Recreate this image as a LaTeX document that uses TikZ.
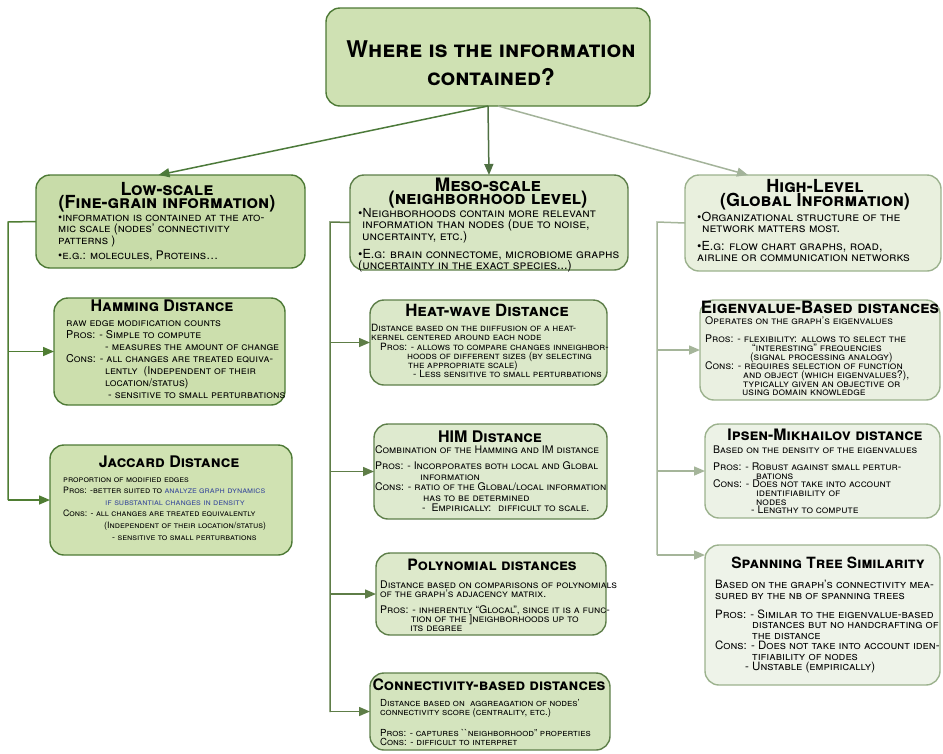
\documentclass[tikz,border=0pt]{standalone}
\usepackage{fontspec}
\newfontfamily\hf{TeX Gyre Heros}
\usetikzlibrary{arrows.meta}
\definecolor{dkg}{HTML}{4E7A36}
\definecolor{mdg}{HTML}{5E7F4A}
\definecolor{ltg}{HTML}{9CB28E}
\definecolor{cTitle}{HTML}{CFE1B3}
\definecolor{cLow}{HTML}{C8DCA9}
\definecolor{cHam}{HTML}{CCDFAD}
\definecolor{cJac}{HTML}{D0E2B2}
\definecolor{cMeso}{HTML}{D8E6C4}
\definecolor{cHeat}{HTML}{DBE8C9}
\definecolor{cHim}{HTML}{DEEACF}
\definecolor{cPoly}{HTML}{DDE9CB}
\definecolor{cConn}{HTML}{D4E4BE}
\definecolor{cHigh}{HTML}{E9F0DE}
\definecolor{cEig}{HTML}{EAF0E1}
\definecolor{cIps}{HTML}{ECF2E6}
\definecolor{cSpan}{HTML}{EEF3E9}
\definecolor{blu}{HTML}{3B4C9B}
\definecolor{aLow}{HTML}{4C7A3A}
\definecolor{aMeso}{HTML}{4F7043}
\definecolor{aHigh}{HTML}{A3B39A}
\definecolor{tLow}{HTML}{4F7D33}
\definecolor{tMeso}{HTML}{5E7D47}
\definecolor{tHigh}{HTML}{A5B59A}
\newcommand\bfnt[2]{\hf\scshape\fontsize{#1}{#2}\selectfont\lineskiplimit=-100pt\lineskip=0pt}
\newcommand\hfnt[2]{\hf\bfseries\scshape\fontsize{#1}{#2}\selectfont\lineskiplimit=-100pt\lineskip=0pt}
\newcommand\fl{\vphantom{(}}
\begin{document}
\begin{tikzpicture}[x=1pt,y=-1pt,
  box/.style={draw, rounded corners=14pt, line width=1.4pt, anchor=north west, inner sep=0pt, outer sep=0pt},
  hd/.style={anchor=base, inner sep=0pt, align=center},
  hdm/.style={anchor=north, inner sep=0pt, align=center},
  body/.style={anchor=north west, inner sep=0pt, align=left},
  tip/.style={-{Triangle[length=11pt,width=9pt]}, line width=1.5pt},
  trunk/.style={line width=1.5pt}]
\useasboundingbox (0,0) rectangle (943,753);
% boxes
\node[box, draw=dkg, fill=cTitle, minimum width=324pt, minimum height=98pt] (title) at (326,8) {};
\node[box, draw=dkg, fill=cLow, minimum width=269pt, minimum height=93pt] (low) at (36,175) {};
\node[box, draw=mdg, fill=cMeso, minimum width=278pt, minimum height=95pt] (meso) at (350,175) {};
\node[box, draw=ltg, fill=cHigh, minimum width=256pt, minimum height=96pt] (high) at (685,175) {};
\node[box, draw=dkg, fill=cHam, minimum width=231pt, minimum height=107pt] (ham) at (54,298) {};
\node[box, draw=dkg, fill=cJac, minimum width=242pt, minimum height=110pt] (jac) at (50,445) {};
\node[box, draw=mdg, fill=cHeat, minimum width=237pt, minimum height=85pt] (heat) at (370,300) {};
\node[box, draw=mdg, fill=cHim, minimum width=233pt, minimum height=95pt] (him) at (374,424) {};
\node[box, draw=mdg, fill=cPoly, minimum width=230pt, minimum height=82pt] (poly) at (376,553) {};
\node[box, draw=mdg, fill=cConn, minimum width=240pt, minimum height=77pt] (conn) at (370,673) {};
\node[box, draw=ltg, fill=cEig, minimum width=240pt, minimum height=100pt] (eig) at (700,300) {};
\node[box, draw=ltg, fill=cIps, minimum width=235pt, minimum height=94pt] (ips) at (705,424) {};
\node[box, draw=ltg, fill=cSpan, minimum width=235pt, minimum height=140pt] (span) at (705,545) {};
% connectors from title
\draw[tip, color=aLow] (title.south) -- ([xshift=-12pt]low.north);
\draw[tip, color=aMeso] (title.south) -- (meso.north);
\draw[tip, color=aHigh] ([xshift=10pt]title.south) -- ([xshift=-65pt]high.north);
% low trunk
\coordinate (lA) at (8,222);
\coordinate (lB) at (8,500);
\draw[trunk, color=tLow] (low.west) -- (lA) -- (lB);
\draw[tip, color=tLow] (lA |- ham.west) -- (ham.west);
\draw[tip, color=tLow] (lA |- jac.west) -- (jac.west);
% meso trunk
\coordinate (mA) at (330,222);
\coordinate (mB) at (330,712);
\draw[trunk, color=tMeso] (meso.west) -- (mA) -- (mB);
\draw[tip, color=tMeso] (mA |- heat.west) -- (heat.west);
\draw[tip, color=tMeso] (mA |- him.west) -- (him.west);
\draw[tip, color=tMeso] (mA |- poly.west) -- (poly.west);
\draw[tip, color=tMeso] (mA |- conn.west) -- (conn.west);
% high trunk
\coordinate (hA) at (657,222);
\coordinate (hB) at (657,555);
\draw[trunk, color=tHigh] (high.west) -- (hA) -- (hB);
\draw[tip, color=tHigh] (hA |- eig.west) -- (eig.west);
\draw[tip, color=tHigh] (hA |- ips.west) -- (ips.west);
\draw[tip, color=tHigh] (hB) -- (hB -| span.west);
% texts
\node[hdm, font=\hfnt{23}{28}] (titlet) at (491,40.2) {\fl Where is the information\\contained?};
\node[hdm, font=\hfnt{18}{13}] (lowh) at (167,182.4) {\fl Low-scale\\(Fine-grain information)};
\node[hdm, font=\hfnt{18.5}{13.5}] (mesoh) at (488,177.5) {\fl Meso-scale\\(neighborhood level)};
\node[hdm, font=\hfnt{18}{14}] (highh) at (815,178.9) {\fl High-Level\\(Global Information)};
\node[body, font=\bfnt{11.8}{11.5}] (lowb) at (58,212.4) {\fl\textbullet information is contained at the ato-\\mic scale (nodes’ connectivity\\patterns )\\[3.5pt]\textbullet e.g.: molecules, Proteins\dots};
\node[body, font=\bfnt{12.5}{11.5}] (mesob) at (358,207.9) {\fl\textbullet Neighborhoods contain more relevant\\\hspace*{4pt}information than nodes (due to noise,\\\hspace*{4pt}uncertainty, etc.)\\[6.5pt]\textbullet E.g: brain connectome, microbiome graphs\\(uncertainty in the exact species...)};
\node[body, font=\bfnt{12.5}{11}] (highb) at (697,211.9) {\fl\textbullet Organizational structure of the\\\hspace*{5pt}network matters most.\\[7pt]\textbullet E.g: flow chart graphs, road,\\airline or communication networks};
% sub headings
\node[hd, font=\hfnt{16}{16}] (hamh) at (162,311) {Hamming Distance};
\node[hd, font=\hfnt{16}{16}] (jach) at (169,467) {Jaccard Distance};
\node[hd, font=\hfnt{16.8}{16}] (heath) at (487,316) {Heat-wave Distance};
\node[hd, font=\hfnt{16}{16}] (himh) at (490,442) {HIM Distance};
\node[hd, font=\hfnt{15.7}{15}] (polyh) at (492,570) {Polynomial distances};
\node[hd, font=\hfnt{15.8}{15}] (connh) at (489,690) {Connectivity-based distances};
\node[hd, font=\hfnt{17}{15}] (eigh) at (820,313) {Eigenvalue-Based distances};
\node[hd, font=\hfnt{15.8}{15}] (ipsh) at (825,440) {Ipsen-Mikhailov distance};
\node[hd, font=\hfnt{15.5}{15}] (spanh) at (828,568) {Spanning Tree Similarity};
% sub bodies
\node[body, font=\bfnt{10.8}{12}] (hamb) at (66,318.1) {\fl raw edge modification counts\\Pros: - Simple to compute\\\hspace*{39pt}- measures the amount of change\\Cons: - all changes are treated equiva-\\\hspace*{39pt}lently \ (Independent of their\\\hspace*{39pt}location/status)\\\hspace*{42pt}- sensitive to small perturbations};
\node[body, font=\bfnt{8.8}{11.6}] (jacb) at (63,475.5) {\fl proportion of modified edges\\Pros: -better suited to {\color{blu}analyze graph dynamics}\\\hspace*{42pt}{\color{blu}if substantial changes in density}\\Cons: - all changes are treated equivalently\\\hspace*{41pt}(Independent of their location/status)\\\hspace*{49pt}- sensitive to small perturbations};
\node[body, font=\bfnt{10}{9.2}] (heatb) at (371,324.2) {\fl Distance based on the diiffusion of a heat-\\kernel centered around each node\\\hspace*{9pt}Pros: - allows to compare changes inneighbor-\\\hspace*{36pt}hoods of different sizes (by selecting\\\hspace*{37pt}the appropriate scale)\\\hspace*{42pt}- Less sensitive to small perturbations};
\node[body, font=\bfnt{10.5}{10.5}] (himb) at (375,445.8) {\fl Combination of the Hamming and IM distance\\[5.5pt]Pros: - Incorporates both local and Global\\\hspace*{45pt}information\\Cons: - ratio of the Global/local information\\\hspace*{48pt}has to be determined\\\hspace*{47pt}- \ Empirically: \ difficult to scale.};
\node[body, font=\bfnt{10.5}{9}] (polyb) at (380,580.8) {\fl Distance based on comparisons of polynomials\\of the graph’s adjacency matrix.\\[7pt]Pros: - inherently “Glocal”, since it is a func-\\\hspace*{31pt}tion of the ]neighborhoods up to\\\hspace*{30pt}its degree};
\node[body, font=\bfnt{9.7}{9}] (connb) at (380,699.4) {\fl Distance based on \ aggreagation of nodes’\\connectivity score (centrality, etc.)\\[12pt]Pros: - captures \textasciigrave\textasciigrave neighborhood” properties\\Cons: - difficult to interpret};
\node[body, font=\bfnt{10.5}{8.83}] (eigb) at (705,316.8) {\fl Operates on the graph’s eigenvalues\\[9.2pt]Pros: - flexibility: allows to select the\\\hspace*{47pt}“interesting” frequencies\\\hspace*{45pt}(signal processing analogy)\\Cons: - requires selection of function\\\hspace*{38pt}and object (which eigenvalues?),\\\hspace*{38pt}typically given an objective or\\\hspace*{37pt}using domain knowledge};
\node[body, font=\bfnt{10.5}{8.6}] (ipsb) at (713,445.8) {\fl Based on the density of the eigenvalues\\[8.4pt]Pros: - Robust against small pertur-\\\hspace*{43pt}bations\\Cons: - Does not take into account\\\hspace*{43pt}identifiability of\\\hspace*{43pt}nodes\\\hspace*{38pt}- Lengthy to compute};
\node[body, font=\bfnt{11.5}{10.5}] (spanb) at (715,580.1) {\fl Based on the graph’s connectivity mea-\\sured by the nb of spanning trees\\[8.5pt]Pros: - Similar to the eigenvalue-based\\\hspace*{37pt}distances but no handcrafting of\\\hspace*{37pt}the distance\\Cons: - Does not take into account iden-\\\hspace*{37pt}tifiability of nodes\\\hspace*{30pt}- Unstable (empirically)};
\end{tikzpicture}
\end{document}
